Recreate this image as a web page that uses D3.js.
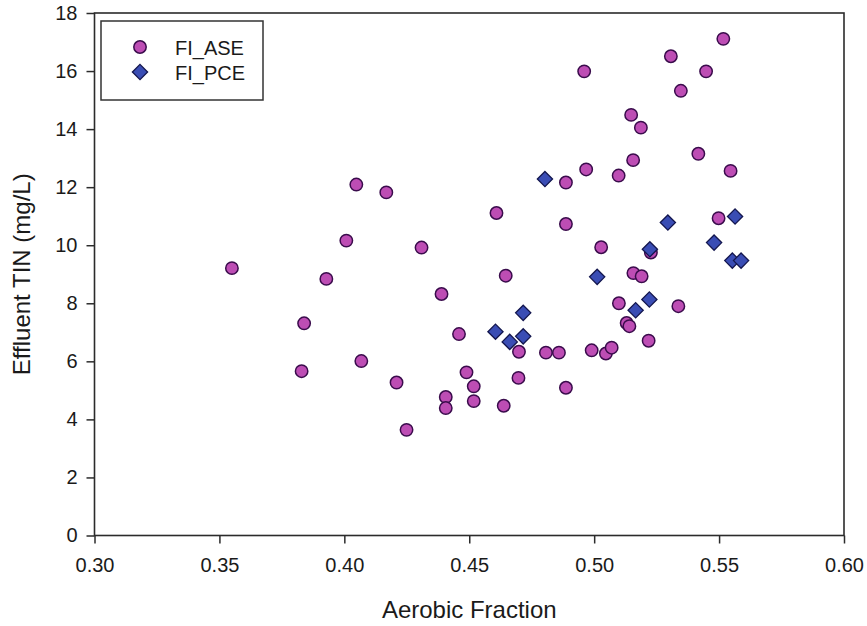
<!DOCTYPE html>
<html>
<head>
<meta charset="utf-8">
<script src="https://cdn.jsdelivr.net/npm/d3@7"></script>
<style>
  html, body { margin: 0; padding: 0; background: #fff; }
  svg { display: block; font-family: "Liberation Sans", Arial, sans-serif; }
</style>
</head>
<body>
<svg id="chart" width="867" height="626"></svg>
<script>
// ---- data ----
const aseX = [0.355, 0.3829, 0.3839, 0.3928, 0.4008, 0.4048, 0.4068, 0.4168, 0.4209, 0.4249,
  0.4309, 0.4389, 0.4406, 0.4406, 0.4459, 0.4489, 0.4518, 0.4518, 0.4609, 0.4638,
  0.4646, 0.4697, 0.4699, 0.4807, 0.4859, 0.4887, 0.4887, 0.4887, 0.4960, 0.4968,
  0.4990, 0.5028, 0.5047, 0.5070, 0.5098, 0.5099, 0.5130, 0.5141, 0.5148, 0.5156,
  0.5157, 0.5187, 0.5190, 0.5218, 0.5227, 0.5307, 0.5337, 0.5347, 0.5417, 0.5448,
  0.5498, 0.5517, 0.5546];
const aseY = [9.21, 5.66, 7.31, 8.84, 10.16, 12.09, 6.01, 11.82, 5.27, 3.64,
  9.92, 8.32, 4.77, 4.39, 6.94, 5.62, 5.14, 4.63, 11.11, 4.47,
  8.95, 5.43, 6.33, 6.30, 6.30, 12.16, 10.73, 5.09, 15.99, 12.61,
  6.38, 9.93, 6.27, 6.47, 12.40, 8.00, 7.32, 7.21, 14.49, 12.93,
  9.04, 14.05, 8.93, 6.71, 9.75, 16.51, 7.90, 15.32, 13.15, 15.99,
  10.93, 17.11, 12.56];
const pceX = [0.4605, 0.4662, 0.4716, 0.4716, 0.4803, 0.5012, 0.5166, 0.5221, 0.5223, 0.5295,
  0.5480, 0.5553, 0.5564, 0.5588];
const pceY = [7.02, 6.67, 6.86, 7.67, 12.28, 8.91, 7.76, 8.13, 9.86, 10.78,
  10.09, 9.47, 10.99, 9.47];
const xTicks = [0.30, 0.35, 0.40, 0.45, 0.50, 0.55, 0.60];
const yTicks = [0, 2, 4, 6, 8, 10, 12, 14, 16, 18];
const seriesNames = ["FI_ASE", "FI_PCE"];
const xTitle = "Aerobic Fraction";
const yTitle = "Effluent TIN (mg/L)";

// ---- layout ----
const svg = d3.select("#chart");
const L = 94.5, R = 844, T = 13, B = 535.5;
const x = d3.scaleLinear().domain([0.30, 0.60]).range([L, R]);
const y = d3.scaleLinear().domain([0, 18]).range([B, T]);

const axisColor = "#2b2b2b";
const circleFill = "#bd4db4", circleStroke = "#3a0c4c";
const diamondFill = "#3a4db4", diamondStroke = "#13164e";

// axes
const gx = svg.append("g").attr("transform", `translate(0,${B})`)
  .call(d3.axisBottom(x).tickValues(xTicks).tickFormat(d3.format(".2f")).tickSize(8).tickPadding(14));
const gy = svg.append("g").attr("transform", `translate(${L},0)`)
  .call(d3.axisLeft(y).tickValues(yTicks).tickFormat(d3.format("d")).tickSize(8).tickPadding(9));
[gx, gy].forEach(g => {
  g.select(".domain").remove();
  g.selectAll(".tick line").attr("stroke", axisColor).attr("stroke-width", 1.5);
  g.selectAll(".tick text").attr("fill", "#1a1a1a").style("font-size", "20px")
    .style("font-family", "'Liberation Sans', Arial, sans-serif");
});

// frame
svg.append("rect").attr("x", L).attr("y", T).attr("width", R - L).attr("height", B - T)
  .attr("fill", "none").attr("stroke", axisColor).attr("stroke-width", 1.6);

// titles
svg.append("text").attr("x", (L + R) / 2).attr("y", 618).attr("text-anchor", "middle")
  .style("font-size", "24px").attr("fill", "#1a1a1a").text(xTitle);
svg.append("text").attr("transform", `translate(30,${(T + B) / 2}) rotate(-90)`)
  .attr("text-anchor", "middle").style("font-size", "24px").attr("fill", "#1a1a1a").text(yTitle);

// marks
const diamondPath = (cx, cy, h) => `M${cx},${cy - h}L${cx + h},${cy}L${cx},${cy + h}L${cx - h},${cy}Z`;
const ase = aseX.map((v, i) => ({ x: v, y: aseY[i] }));
const pce = pceX.map((v, i) => ({ x: v, y: pceY[i] }));

svg.append("g").selectAll("circle").data(ase).join("circle")
  .attr("cx", d => x(d.x)).attr("cy", d => y(d.y)).attr("r", 6.2)
  .attr("fill", circleFill).attr("stroke", circleStroke).attr("stroke-width", 1.5);
svg.append("g").selectAll("path").data(pce).join("path")
  .attr("d", d => diamondPath(x(d.x), y(d.y), 7.6))
  .attr("fill", diamondFill).attr("stroke", diamondStroke).attr("stroke-width", 1.3);

// legend
const lg = svg.append("g");
lg.append("rect").attr("x", 101).attr("y", 21).attr("width", 162).attr("height", 79)
  .attr("fill", "#fff").attr("stroke", "#333").attr("stroke-width", 1.5);
lg.append("circle").attr("cx", 140).attr("cy", 47).attr("r", 6.2)
  .attr("fill", circleFill).attr("stroke", circleStroke).attr("stroke-width", 1.5);
lg.append("path").attr("d", diamondPath(140, 72, 7.6))
  .attr("fill", diamondFill).attr("stroke", diamondStroke).attr("stroke-width", 1.3);
lg.selectAll("text.lt").data(seriesNames).join("text").attr("class", "lt")
  .attr("x", 175).attr("y", (d, i) => 55 + i * 25)
  .style("font-size", "20px").attr("fill", "#1a1a1a").text(d => d);
</script>
</body>
</html>
